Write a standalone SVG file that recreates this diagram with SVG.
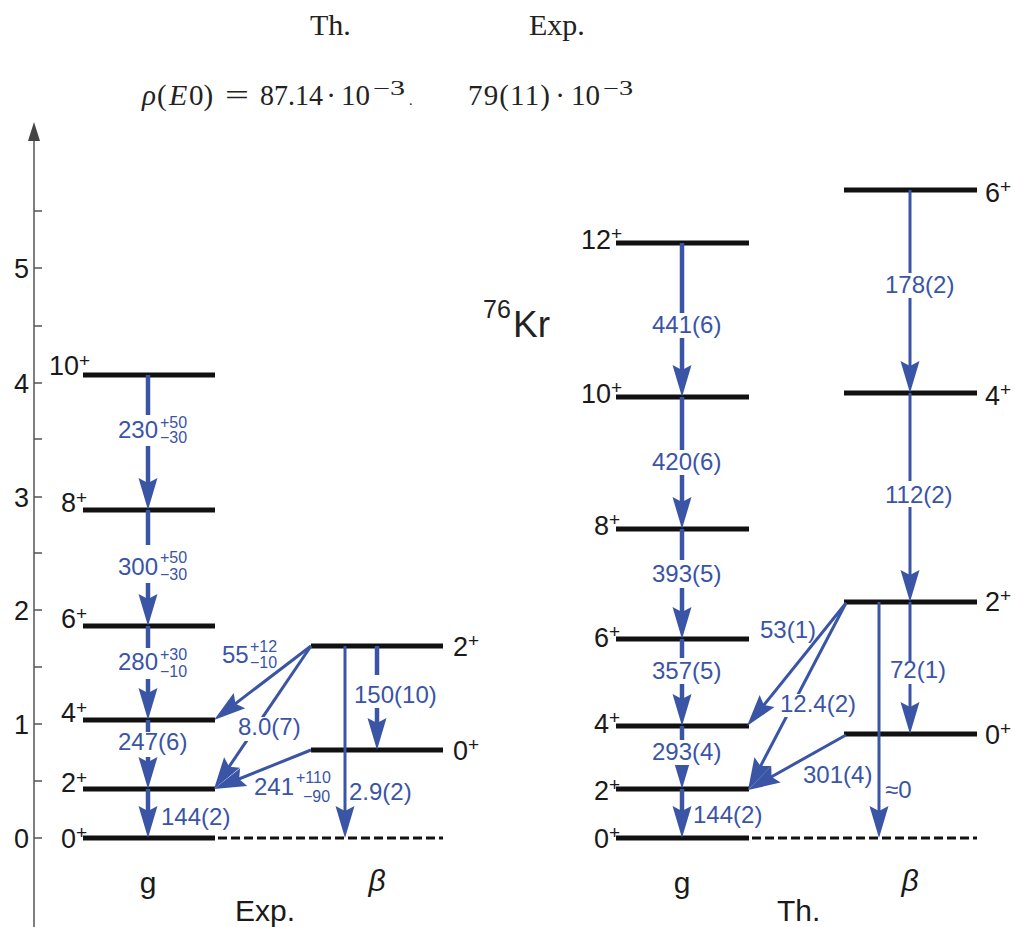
<svg xmlns="http://www.w3.org/2000/svg" width="1015" height="927" viewBox="0 0 1015 927">
<style>
.lvl{stroke:#111;stroke-width:5;fill:none}
.dash{stroke:#111;stroke-width:3;stroke-dasharray:9 4;fill:none}
.ax{stroke:#555;stroke-width:1.5;fill:none}
.th{stroke:#3a54a6;stroke-width:4.5;fill:none}
.tn{stroke:#3a54a6;stroke-width:3;fill:none}
.ah{fill:#3a54a6}
.bl{font-family:"Liberation Sans",Arial,sans-serif;font-size:24px;fill:#3a54a6}
.sm{font-family:"Liberation Sans",Arial,sans-serif;font-size:16px;fill:#3a54a6}
.lb{font-family:"Liberation Sans",Arial,sans-serif;font-size:27px;fill:#1a1a1a}
.sp{font-family:"Liberation Sans",Arial,sans-serif;font-size:19px;fill:#1a1a1a}
.big{font-family:"Liberation Sans",Arial,sans-serif;font-size:30px;fill:#1a1a1a}
.ser{font-family:"Liberation Serif","Times New Roman",serif;fill:#222}
.gap{fill:#fff}
</style>
<defs>
<path id="ah" d="M0,0 L-32,-9.5 L-27,0 L-32,9.5 Z"/>
</defs>

<g id="header">
<text class="ser" x="310" y="35" font-size="30">Th.</text>
<text class="ser" x="529" y="35" font-size="30">Exp.</text>
<text class="ser" x="142" y="105" font-size="29" font-style="italic">ρ</text>
<text class="ser" x="157" y="105" font-size="29">(</text>
<text class="ser" x="169" y="105" font-size="30" font-style="italic">E</text>
<text class="ser" x="189" y="105" font-size="29">0)</text>
<text class="ser" x="225" y="105" font-size="29" textLength="24" lengthAdjust="spacingAndGlyphs">=</text>
<text class="ser" x="260" y="105" font-size="29" textLength="63" lengthAdjust="spacingAndGlyphs">87.14</text>
<text class="ser" x="331" y="105" font-size="29" text-anchor="middle">·</text>
<text class="ser" x="341" y="105" font-size="29" textLength="29" lengthAdjust="spacingAndGlyphs">10</text>
<text class="ser" x="373" y="95" font-size="20" textLength="32" lengthAdjust="spacingAndGlyphs">−3</text>
<text class="ser" x="409" y="105" font-size="14">.</text>
<text class="ser" x="468" y="105" font-size="29" textLength="82" lengthAdjust="spacing">79(11)</text>
<text class="ser" x="560" y="105" font-size="29" text-anchor="middle">·</text>
<text class="ser" x="571" y="105" font-size="29" textLength="29" lengthAdjust="spacingAndGlyphs">10</text>
<text class="ser" x="603" y="95" font-size="20" textLength="30" lengthAdjust="spacingAndGlyphs">−3</text>
</g>

<g id="axis">
<line class="ax" x1="34" y1="135" x2="34" y2="927"/>
<path d="M34,122 L40,141 L28,141 Z" fill="#444"/>
<path class="ax" d="M34,838 H42 M34,781 H42 M34,724 H42 M34,667 H42 M34,610 H42 M34,553 H42 M34,497 H42 M34,439 H42 M34,383 H42 M34,326 H42 M34,268 H42 M34,211 H42"/>
<text class="lb" x="29" y="848" text-anchor="end">0</text>
<text class="lb" x="29" y="734" text-anchor="end">1</text>
<text class="lb" x="29" y="620" text-anchor="end">2</text>
<text class="lb" x="29" y="507" text-anchor="end">3</text>
<text class="lb" x="29" y="393" text-anchor="end">4</text>
<text class="lb" x="29" y="278" text-anchor="end">5</text>
</g>

<g id="exp-g-10"><line class="lvl" x1="83" y1="375" x2="215" y2="375"/><text class="lb" x="79" y="375" text-anchor="end">10</text><text class="sp" x="79" y="367">+</text></g>
<g id="exp-g-8"><line class="lvl" x1="83" y1="510" x2="215" y2="510"/><text class="lb" x="76" y="512" text-anchor="end">8</text><text class="sp" x="76" y="504">+</text></g>
<g id="exp-g-6"><line class="lvl" x1="83" y1="626" x2="215" y2="626"/><text class="lb" x="76" y="628" text-anchor="end">6</text><text class="sp" x="76" y="620">+</text></g>
<g id="exp-g-4"><line class="lvl" x1="83" y1="720" x2="215" y2="720"/><text class="lb" x="76" y="722" text-anchor="end">4</text><text class="sp" x="76" y="714">+</text></g>
<g id="exp-g-2"><line class="lvl" x1="83" y1="789" x2="215" y2="789"/><text class="lb" x="76" y="792" text-anchor="end">2</text><text class="sp" x="76" y="784">+</text></g>
<g id="exp-g-0"><line class="lvl" x1="83" y1="838" x2="215" y2="838"/><line class="dash" x1="218" y1="838" x2="443" y2="838"/><text class="lb" x="76" y="848" text-anchor="end">0</text><text class="sp" x="76" y="839">+</text></g>
<g id="exp-b-2"><line class="lvl" x1="311" y1="646" x2="443" y2="646"/><text class="lb" x="453" y="656">2</text><text class="sp" x="468" y="647">+</text></g>
<g id="exp-b-0"><line class="lvl" x1="311" y1="750" x2="443" y2="750"/><text class="lb" x="453" y="760">0</text><text class="sp" x="468" y="751">+</text></g>

<g id="th-g-12"><line class="lvl" x1="616" y1="243" x2="749" y2="243"/><text class="lb" x="611" y="249" text-anchor="end">12</text><text class="sp" x="611" y="240">+</text></g>
<g id="th-g-10"><line class="lvl" x1="616" y1="397" x2="749" y2="397"/><text class="lb" x="611" y="403" text-anchor="end">10</text><text class="sp" x="611" y="394">+</text></g>
<g id="th-g-8"><line class="lvl" x1="616" y1="529" x2="749" y2="529"/><text class="lb" x="609" y="535" text-anchor="end">8</text><text class="sp" x="609" y="526">+</text></g>
<g id="th-g-6"><line class="lvl" x1="616" y1="639" x2="749" y2="639"/><text class="lb" x="609" y="647" text-anchor="end">6</text><text class="sp" x="609" y="638">+</text></g>
<g id="th-g-4"><line class="lvl" x1="616" y1="726" x2="749" y2="726"/><text class="lb" x="609" y="733" text-anchor="end">4</text><text class="sp" x="609" y="724">+</text></g>
<g id="th-g-2"><line class="lvl" x1="616" y1="789" x2="749" y2="789"/><text class="lb" x="609" y="800" text-anchor="end">2</text><text class="sp" x="609" y="791">+</text></g>
<g id="th-g-0"><line class="lvl" x1="616" y1="838" x2="749" y2="838"/><line class="dash" x1="752" y1="838" x2="977" y2="838"/><text class="lb" x="609" y="848" text-anchor="end">0</text><text class="sp" x="609" y="839">+</text></g>
<g id="th-b-6"><line class="lvl" x1="844" y1="190" x2="977" y2="190"/><text class="lb" x="985" y="202">6</text><text class="sp" x="1000" y="193">+</text></g>
<g id="th-b-4"><line class="lvl" x1="844" y1="393" x2="977" y2="393"/><text class="lb" x="985" y="405">4</text><text class="sp" x="1000" y="396">+</text></g>
<g id="th-b-2"><line class="lvl" x1="844" y1="602" x2="977" y2="602"/><text class="lb" x="985" y="611">2</text><text class="sp" x="1000" y="602">+</text></g>
<g id="th-b-0"><line class="lvl" x1="844" y1="734" x2="977" y2="734"/><text class="lb" x="985" y="744">0</text><text class="sp" x="1000" y="735">+</text></g>

<g id="connectors">
<line class="th" x1="148" y1="375" x2="148" y2="490"/>
<line class="th" x1="148" y1="510" x2="148" y2="606"/>
<line class="th" x1="148" y1="626" x2="148" y2="700"/>
<line class="th" x1="148" y1="720" x2="148" y2="769"/>
<line class="th" x1="148" y1="789" x2="148" y2="818"/>
<use href="#ah" class="ah" transform="translate(148,510) rotate(90)"/>
<use href="#ah" class="ah" transform="translate(148,626) rotate(90)"/>
<use href="#ah" class="ah" transform="translate(148,720) rotate(90)"/>
<use href="#ah" class="ah" transform="translate(148,789) rotate(90)"/>
<use href="#ah" class="ah" transform="translate(148,838) rotate(90)"/>
<line class="tn" x1="345" y1="646" x2="345" y2="818"/>
<use href="#ah" class="ah" transform="translate(345,838) rotate(90)"/>
<line class="th" x1="377" y1="646" x2="377" y2="730"/>
<use href="#ah" class="ah" transform="translate(377,750) rotate(90)"/>
<line class="tn" x1="311" y1="646" x2="229.9" y2="707.9"/>
<use href="#ah" class="ah" transform="translate(214,720) rotate(142.7)"/>
<line class="tn" x1="311" y1="646" x2="225.2" y2="772.4"/>
<use href="#ah" class="ah" transform="translate(214,789) rotate(124.15)"/>
<line class="tn" x1="311" y1="750" x2="232.6" y2="781.5"/>
<use href="#ah" class="ah" transform="translate(214,789) rotate(158.1)"/>

<line class="th" x1="682" y1="243" x2="682" y2="377"/>
<line class="th" x1="682" y1="397" x2="682" y2="509"/>
<line class="th" x1="682" y1="529" x2="682" y2="619"/>
<line class="th" x1="682" y1="639" x2="682" y2="706"/>
<line class="th" x1="682" y1="726" x2="682" y2="769"/>
<line class="th" x1="682" y1="789" x2="682" y2="818"/>
<use href="#ah" class="ah" transform="translate(682,397) rotate(90)"/>
<use href="#ah" class="ah" transform="translate(682,529) rotate(90)"/>
<use href="#ah" class="ah" transform="translate(682,639) rotate(90)"/>
<use href="#ah" class="ah" transform="translate(682,726) rotate(90)"/>
<use href="#ah" class="ah" transform="translate(682,789) rotate(90)"/>
<use href="#ah" class="ah" transform="translate(682,838) rotate(90)"/>
<line class="tn" x1="910" y1="190" x2="910" y2="373"/>
<line class="tn" x1="910" y1="393" x2="910" y2="582"/>
<line class="tn" x1="910" y1="602" x2="910" y2="714"/>
<use href="#ah" class="ah" transform="translate(910,393) rotate(90)"/>
<use href="#ah" class="ah" transform="translate(910,602) rotate(90)"/>
<use href="#ah" class="ah" transform="translate(910,734) rotate(90)"/>
<line class="tn" x1="879" y1="602" x2="879" y2="818"/>
<use href="#ah" class="ah" transform="translate(879,838) rotate(90)"/>
<line class="tn" x1="846" y1="603" x2="759.5" y2="710.4"/>
<use href="#ah" class="ah" transform="translate(747,726) rotate(128.8)"/>
<line class="tn" x1="846" y1="603" x2="757.3" y2="772.3"/>
<use href="#ah" class="ah" transform="translate(748,790) rotate(117.65)"/>
<line class="tn" x1="846" y1="735" x2="765.4" y2="780.2"/>
<use href="#ah" class="ah" transform="translate(748,790) rotate(150.7)"/>
</g>

<g id="labels">
<rect class="gap" x="115" y="415" width="78" height="31"/>
<text class="bl" x="118" y="438">230</text><text class="sm" x="160" y="428">+50</text><text class="sm" x="160" y="443">−30</text>
<rect class="gap" x="115" y="545" width="78" height="38"/>
<text class="bl" x="118" y="575">300</text><text class="sm" x="160" y="563">+50</text><text class="sm" x="160" y="580">−30</text>
<rect class="gap" x="115" y="648" width="78" height="31"/>
<text class="bl" x="118" y="670">280</text><text class="sm" x="160" y="660">+30</text><text class="sm" x="160" y="677">−10</text>
<rect class="gap" x="115" y="732" width="78" height="25"/>
<text class="bl" x="118" y="750">247(6)</text>
<text class="bl" x="161" y="825">144(2)</text>
<text class="bl" x="222" y="663">55</text><text class="sm" x="250" y="652">+12</text><text class="sm" x="250" y="668">−10</text>
<rect class="gap" x="238" y="717" width="66" height="24"/>
<text class="bl" x="238" y="735">8.0(7)</text>
<text class="bl" x="254" y="795">241</text><text class="sm" x="296" y="783">+110</text><text class="sm" x="303" y="802">−90</text>
<text class="bl" x="349" y="800">2.9(2)</text>
<rect class="gap" x="352" y="675" width="88" height="33"/>
<text class="bl" x="354" y="703">150(10)</text>

<rect class="gap" x="648" y="313" width="79" height="25"/>
<text class="bl" x="652" y="333">441(6)</text>
<rect class="gap" x="648" y="450" width="79" height="25"/>
<text class="bl" x="652" y="470">420(6)</text>
<rect class="gap" x="648" y="560" width="79" height="28"/>
<text class="bl" x="652" y="582">393(5)</text>
<rect class="gap" x="648" y="658" width="79" height="26"/>
<text class="bl" x="652" y="679">357(5)</text>
<rect class="gap" x="648" y="740" width="79" height="25"/>
<text class="bl" x="652" y="760">293(4)</text>
<text class="bl" x="693" y="823">144(2)</text>
<rect class="gap" x="882" y="273" width="74" height="25"/>
<text class="bl" x="885" y="293">178(2)</text>
<rect class="gap" x="882" y="481" width="74" height="26"/>
<text class="bl" x="885" y="503">112(2)</text>
<rect class="gap" x="887" y="661" width="63" height="23"/>
<text class="bl" x="890" y="678">72(1)</text>
<text class="bl" x="760" y="638">53(1)</text>
<rect class="gap" x="778" y="694" width="81" height="23"/>
<text class="bl" x="780" y="712">12.4(2)</text>
<text class="bl" x="803" y="783">301(4)</text>
<text class="bl" x="885" y="798">≈0</text>

<text x="483" y="318" font-family="Liberation Sans,Arial,sans-serif" font-size="25" fill="#222">76</text>
<text x="513" y="337" font-family="Liberation Sans,Arial,sans-serif" font-size="37" fill="#222">Kr</text>

<text class="big" x="148" y="893" text-anchor="middle">g</text>
<text class="big" x="377" y="891" text-anchor="middle" font-style="italic">β</text>
<text class="big" x="235" y="921">Exp.</text>
<text class="big" x="682" y="893" text-anchor="middle">g</text>
<text class="big" x="910" y="891" text-anchor="middle" font-style="italic">β</text>
<text class="big" x="777" y="921">Th.</text>
</g>
</svg>
